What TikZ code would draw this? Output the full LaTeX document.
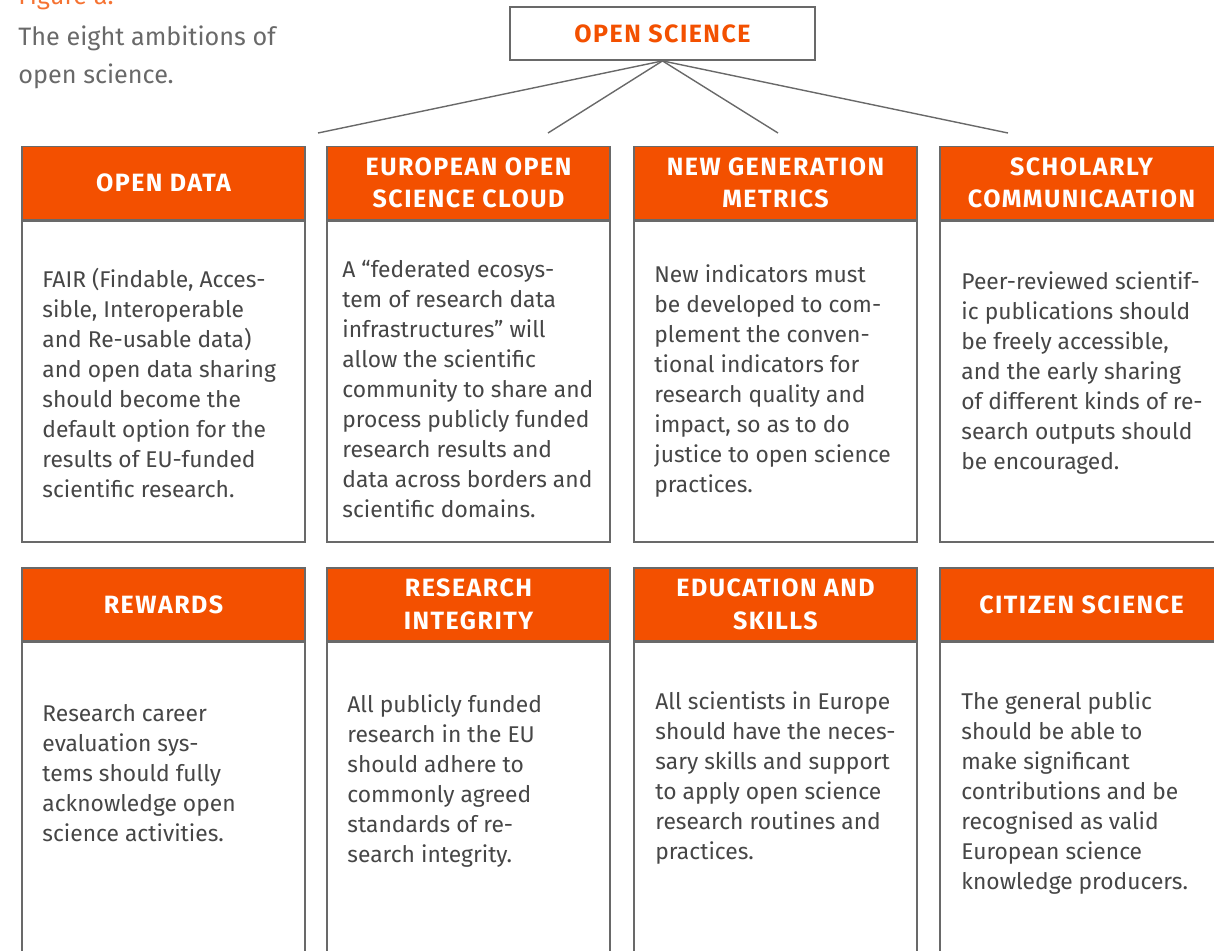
\documentclass[tikz,border=0pt]{standalone}
\usepackage{fontspec}
\setmainfont{Fira Sans}
\newfontfamily\headfont[LetterSpace=6]{Fira Sans}
\usetikzlibrary{positioning}
\definecolor{osorange}{RGB}{243,80,0}
\definecolor{osgrey}{RGB}{105,105,105}
\definecolor{ostext}{RGB}{70,70,70}

\begin{document}
\begin{tikzpicture}[x=0.5pt,y=-0.5pt,
    block_top/.style ={rectangle, draw=osgrey, line width=0.9pt, fill=white,
      minimum width=152.5pt, minimum height=26.5pt, text=osorange,
      font=\headfont\bfseries\fontsize{12.5}{14}\selectfont},
    block_head/.style ={rectangle, draw=osgrey, line width=0.7pt, fill=osorange,
      text=white, minimum width=141.5pt, minimum height=36.5pt, align=center,
      inner sep=0pt, font=\headfont\bfseries\fontsize{12.5}{16.3}\selectfont},
    block_body/.style ={rectangle, draw=osgrey, line width=0.7pt, fill=white,
      minimum width=141.5pt, inner sep=0pt},
    block_text/.style ={anchor=base west, align=left, inner sep=0pt,
      text=ostext, font=\fontsize{11.4}{15}\selectfont},
    line/.style ={draw=osgrey, line width=0.7pt}]
    \useasboundingbox (0,0) rectangle (1214,950);
    \clip (0,0) rectangle (1214,950);
    % caption (base = last line)
    \node [anchor=base west, inner sep=0pt, text=osorange!80,
      font=\fontsize{12.6}{18.5}\selectfont] (figlabel) at (18,4) {Figure a.};
    \node [anchor=base west, inner sep=0pt, text=osgrey, align=left,
      font=\fontsize{12.6}{18.7}\selectfont] (caption) at (18,83)
      {The eight ambitions of\\open science.};
    % top of the tree
    \node [block_top] (openscience) at (662.5,33.5) {OPEN SCIENCE};
    \coordinate (c1) at (318,133);
    \coordinate (c2) at (548,133);
    \coordinate (c3) at (778,133);
    \coordinate (c4) at (1008,133);
    % ambitions - row 1
    \node [block_head] (opendata) at (163.5,183) {\raisebox{-2pt}{OPEN DATA}};
    \node [block_head] (cloud) at (468.5,183) {EUROPEAN OPEN\\SCIENCE CLOUD};
    \node [block_head] (metrics) at (775.5,183) {NEW GENERATION\\METRICS};
    \node [block_head] (scholarly) at (1081.5,183) {SCHOLARLY\\COMMUNICAATION};
    \node [block_body, minimum height=160.5pt, below=0pt of opendata] (opendata_body) {};
    \node [block_body, minimum height=160.5pt, below=0pt of cloud] (cloud_body) {};
    \node [block_body, minimum height=160.5pt, below=0pt of metrics] (metrics_body) {};
    \node [block_body, minimum height=160.5pt, below=0pt of scholarly] (scholarly_body) {};
    % ambitions - row 2
    \node [block_head] (rewards) at (163.5,604.5) {REWARDS};
    \node [block_head] (integrity) at (468.5,604.5) {RESEARCH\\INTEGRITY};
    \node [block_head] (education) at (775.5,604.5) {EDUCATION AND\\SKILLS};
    \node [block_head] (citizen) at (1081.5,604.5) {CITIZEN SCIENCE};
    \node [block_body, minimum height=200pt, below=0pt of rewards] (rewards_body) {};
    \node [block_body, minimum height=200pt, below=0pt of integrity] (integrity_body) {};
    \node [block_body, minimum height=200pt, below=0pt of education] (education_body) {};
    \node [block_body, minimum height=200pt, below=0pt of citizen] (citizen_body) {};
    % texts - row 1 (placed at the baseline of the last line)
    \node [block_text] (opendata_text) at (42,497) {FAIR (Findable, Acces-\\sible, Interoperable\\and Re-usable data)\\and open data sharing\\should become the\\default option for the\\results of EU-funded\\scientific research.};
    \node [block_text] (cloud_text) at (342,517) {A “federated ecosys-\\tem of research data\\infrastructures” will\\allow the scientific\\community to share and\\process publicly funded\\research results and\\data across borders and\\scientific domains.};
    \node [block_text] (metrics_text) at (654,492) {New indicators must\\be developed to com-\\plement the conven-\\tional indicators for\\research quality and\\impact, so as to do\\justice to open science\\practices.};
    \node [block_text] (scholarly_text) at (961,469) {Peer-reviewed scientif-\\ic publications should\\be freely accessible,\\and the early sharing\\of different kinds of re-\\search outputs should\\be encouraged.};
    % texts - row 2
    \node [block_text] (rewards_text) at (42,841) {Research career\\evaluation sys-\\tems should fully\\acknowledge open\\science activities.};
    \node [block_text] (integrity_text) at (347,862) {All publicly funded\\research in the EU\\should adhere to\\commonly agreed\\standards of re-\\search integrity.};
    \node [block_text] (education_text) at (655,859) {All scientists in Europe\\should have the neces-\\sary skills and support\\to apply open science\\research routines and\\practices.};
    \node [block_text] (citizen_text) at (961,889) {The general public\\should be able to\\make significant\\contributions and be\\recognised as valid\\European science\\knowledge producers.};
    % connecting the top node
    \begin{scope}[every path/.style=line]
      \path (openscience.south) -- (c1);
      \path (openscience.south) -- (c2);
      \path (openscience.south) -- (c3);
      \path (openscience.south) -- (c4);
    \end{scope}
\end{tikzpicture}
\end{document}
